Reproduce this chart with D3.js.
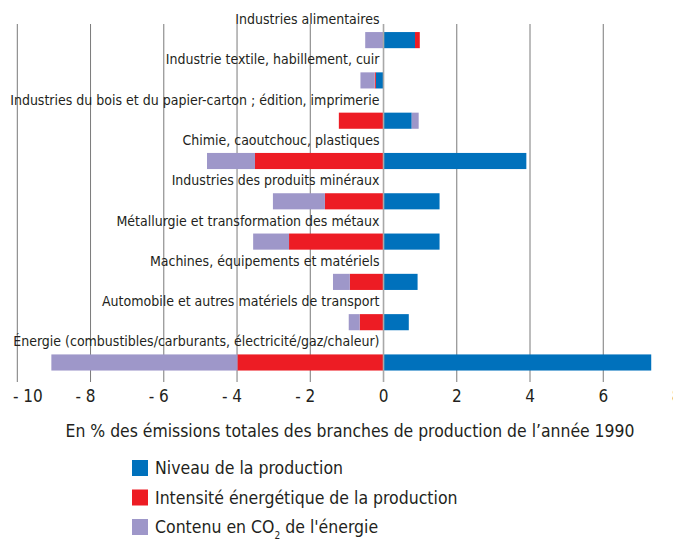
<!DOCTYPE html>
<html>
<head>
<meta charset="utf-8">
<script src="https://cdn.jsdelivr.net/npm/d3@7"></script>
<style>
  body { margin: 0; background: #fff; }
  svg { display: block; font-family: "DejaVu Sans Condensed", "Liberation Sans Narrow", "Roboto", sans-serif; }
  text { fill: #231f20; }
</style>
</head>
<body>
<svg id="chart"></svg>
<script>
// Branches de production
var categories = [
    'Industries alimentaires',
    'Industrie textile, habillement, cuir',
    'Industries du bois et du papier-carton ; édition, imprimerie',
    'Chimie, caoutchouc, plastiques',
    'Industries des produits minéraux',
    'Métallurgie et transformation des métaux',
    'Machines, équipements et matériels',
    'Automobile et autres matériels de transport',
    'Énergie (combustibles/carburants, électricité/gaz/chaleur)'
];

// Contributions (en % des émissions 1990)
var niveau    = [0.86, -0.21, 0.77, 3.90, 1.53, 1.53, 0.93, 0.69, 7.31];
var intensite = [0.13, -0.03, -1.22, -3.51, -1.60, -2.58, -0.92, -0.65, -3.99];
var contenu   = [-0.50, -0.39, 0.19, -1.31, -1.42, -0.98, -0.46, -0.30, -5.08];

var xTicks = [-10, -8, -6, -4, -2, 0, 2, 4, 6, 8];
var seriesNames = ['Niveau de la production', 'Intensité énergétique de la production', 'Contenu en CO'];
var xTitle = 'En % des émissions totales des branches de production de l\u2019année 1990';

var width = 673, height = 539;
var colors = ['#0071bc', '#ed1c24', '#9e97c9'];

var svg = d3.select('#chart')
    .attr('width', width)
    .attr('height', height);

var table = categories.map(function(c, i) {
    return { cat: c, niveau: niveau[i], intensite: intensite[i], contenu: contenu[i] };
});
var keys = ['niveau', 'intensite', 'contenu'];

var stacked = d3.stack()
    .keys(keys)
    .offset(d3.stackOffsetDiverging)(table);

var xScale = d3.scaleLinear()
    .domain([-10, 8])
    .range([17.3, 676.5]);

var yScale = d3.scaleBand()
    .domain(categories)
    .range([24, 378.6])
    .paddingInner(0.6)
    .paddingOuter(0.2);

// grid lines
svg.append('g')
    .selectAll('line')
    .data(xTicks.filter(d => d !== 0))
    .enter()
    .append('line')
    .attr('x1', d => xScale(d))
    .attr('x2', d => xScale(d))
    .attr('y1', 24)
    .attr('y2', 382)
    .attr('stroke', '#7a7a7a')
    .attr('stroke-width', 1);

// category labels
svg.append('g')
    .selectAll('text')
    .data(categories)
    .enter()
    .append('text')
    .attr('x', xScale(0) - 4)
    .attr('y', d => yScale(d) - 8)
    .attr('text-anchor', 'end')
    .style('font-size', '14px')
    .text(d => d);

// bars
svg.append('g')
    .selectAll('g')
    .data(stacked)
    .enter()
    .append('g')
    .attr('fill', (d, i) => colors[i])
    .selectAll('rect')
    .data(d => d)
    .enter()
    .append('rect')
    .attr('x', d => xScale(Math.min(d[0], d[1])))
    .attr('y', d => yScale(d.data.cat))
    .attr('width', d => Math.abs(xScale(d[1]) - xScale(d[0])))
    .attr('height', yScale.bandwidth());

// zero line on top
svg.append('line')
    .attr('x1', xScale(0))
    .attr('x2', xScale(0))
    .attr('y1', 24)
    .attr('y2', 382)
    .attr('stroke', '#a8a8a8')
    .attr('stroke-width', 1.6);

// tick labels
var tickG = svg.append('g');
tickG.selectAll('text')
    .data(xTicks)
    .enter()
    .append('text')
    .attr('x', d => xScale(d) + (d < 0 ? -5 : 0))
    .attr('y', 402)
    .attr('text-anchor', 'middle')
    .style('font-size', '17px')
    .text(d => d < 0 ? '- ' + Math.abs(d) : d)
    .each(function() {
        // keep the first label inside the frame
        var b = this.getBBox();
        if (b.x < 13) d3.select(this).attr('x', +d3.select(this).attr('x') + (13 - b.x));
    });

// axis title
svg.append('text')
    .attr('x', 350)
    .attr('y', 437)
    .attr('text-anchor', 'middle')
    .style('font-size', '17.4px')
    .text(xTitle);

// legend
var legend = svg.append('g')
    .selectAll('g')
    .data(seriesNames)
    .enter()
    .append('g')
    .attr('transform', (d, i) => 'translate(132,' + (460 + i * 29.5) + ')');

legend.append('rect')
    .attr('width', 16)
    .attr('height', 16)
    .attr('fill', (d, i) => colors[i]);

var legText = legend.append('text')
    .attr('x', 23)
    .attr('y', 14)
    .style('font-size', '17.5px')
    .text(d => d);

legText.filter((d, i) => i === 2)
    .append('tspan')
    .attr('baseline-shift', 'sub')
    .style('font-size', '10px')
    .text('2');
legText.filter((d, i) => i === 2)
    .append('tspan')
    .text(' de l\'énergie');
</script>
</body>
</html>
